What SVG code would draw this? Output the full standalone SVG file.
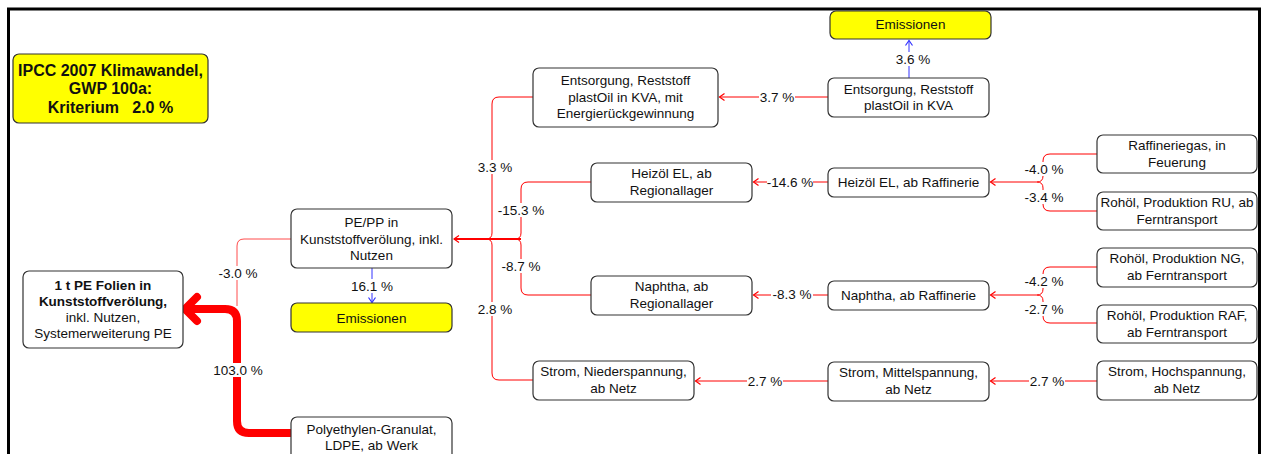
<svg xmlns="http://www.w3.org/2000/svg" width="1264" height="454" viewBox="0 0 1264 454">
<style>
.n{fill:#fff;stroke:#333;stroke-width:1.2}
.e{fill:#ffff00;stroke:#333;stroke-width:1.2}
.t{font-family:"Liberation Sans",Arial,sans-serif;font-size:13.5px;fill:#111;text-anchor:middle}
.b{font-weight:bold}
.r{fill:none;stroke:#ff0000;stroke-width:1}
.bl{fill:none;stroke:#3333ff;stroke-width:1}
.lb{fill:#fff}
</style>
<defs>
<marker id="ar" viewBox="-7 -5 9 10" refX="0" refY="0" markerWidth="9" markerHeight="10" markerUnits="userSpaceOnUse" orient="auto">
<path d="M-5,-3.5 L0,0 L-5,3.5" fill="none" stroke="#ff0000" stroke-width="1.2"/>
</marker>
<marker id="ab" viewBox="-7 -5 9 10" refX="0" refY="0" markerWidth="9" markerHeight="10" markerUnits="userSpaceOnUse" orient="auto">
<path d="M-5,-3.5 L0,0 L-5,3.5" fill="none" stroke="#3333ff" stroke-width="1.2"/>
</marker>
</defs>
<rect x="0" y="0" width="1264" height="454" fill="#fff"/>
<rect x="8.5" y="9" width="1251" height="470" fill="none" stroke="#000" stroke-width="3"/>

<g id="connectors">
<!-- thick main -->
<path d="M292,433 H249 Q237,433 237,421 V321 Q237,309 225,309 H188" fill="none" stroke="#ff0000" stroke-width="8"/>
<path d="M197,297 L185,309 L197,321" fill="none" stroke="#ff0000" stroke-width="8" stroke-linecap="round" stroke-linejoin="round"/>
<path class="r" d="M291,239 H244 Q237,239 237,246 V306" stroke-opacity="0.7"/>
<path class="bl" d="M372,268 V302.5" marker-end="url(#ab)"/>
<!-- trunk into PE/PP -->
<path d="M521,239 H454" fill="none" stroke="#ff0000" stroke-width="2" marker-end="url(#ar)"/>
<path class="r" d="M533,97 H499 Q492,97 492,104 V233 Q492,239 486,239"/>
<path class="r" d="M533,380 H499 Q492,380 492,373 V245 Q492,239 486,239"/>
<path class="r" d="M591,182 H528 Q521,182 521,189 V233 Q521,239 515,239" stroke-width="1.3"/>
<path class="r" d="M591,295 H528 Q521,295 521,288 V245 Q521,239 515,239"/>
<!-- middle column -->
<path class="r" d="M828,97 H719.5" marker-end="url(#ar)"/>
<path class="r" d="M828,182 H753.5" stroke-width="1.5" marker-end="url(#ar)"/>
<path class="r" d="M828,295 H753.5" marker-end="url(#ar)"/>
<path class="r" d="M828,381 H695.5" marker-end="url(#ar)"/>
<path class="bl" d="M909,78 V40.5" marker-end="url(#ab)"/>
<!-- right column -->
<path class="r" d="M1097,381 H990.5" marker-end="url(#ar)"/>
<path class="r" d="M1037,182 H990.5" stroke-width="1.5" marker-end="url(#ar)"/>
<path class="r" d="M1097,154 H1050 Q1043,154 1043,161 V176 Q1043,182 1037,182"/>
<path class="r" d="M1097,211 H1050 Q1043,211 1043,204 V188 Q1043,182 1037,182"/>
<path class="r" d="M1037,295 H990.5" stroke-width="1.5" marker-end="url(#ar)"/>
<path class="r" d="M1097,267 H1050 Q1043,267 1043,274 V289 Q1043,295 1037,295"/>
<path class="r" d="M1097,323 H1050 Q1043,323 1043,316 V301 Q1043,295 1037,295"/>
<!-- labels -->
<rect class="lb" x="218" y="266" width="40" height="14"/><text class="t" x="238" y="278">-3.0 %</text>
<rect class="lb" x="216" y="363" width="44" height="14"/><text class="t" x="238" y="375">103.0 %</text>
<rect class="lb" x="354" y="279" width="36" height="14"/><text class="t" x="372" y="291">16.1 %</text>
<rect class="lb" x="477" y="160" width="36" height="14"/><text class="t" x="495" y="172">3.3 %</text>
<rect class="lb" x="477" y="302" width="36" height="14"/><text class="t" x="495" y="314">2.8 %</text>
<rect class="lb" x="497" y="203" width="48" height="14"/><text class="t" x="521" y="215">-15.3 %</text>
<rect class="lb" x="500" y="259" width="42" height="14"/><text class="t" x="521" y="271">-8.7 %</text>
<rect class="lb" x="759" y="90" width="36" height="14"/><text class="t" x="777" y="102">3.7 %</text>
<rect class="lb" x="767" y="175" width="46" height="14"/><text class="t" x="790" y="187">-14.6 %</text>
<rect class="lb" x="771" y="288" width="42" height="14"/><text class="t" x="792" y="299">-8.3 %</text>
<rect class="lb" x="747" y="374" width="36" height="14"/><text class="t" x="765" y="386">2.7 %</text>
<rect class="lb" x="1029" y="374" width="36" height="14"/><text class="t" x="1047" y="386">2.7 %</text>
<rect class="lb" x="895" y="52" width="36" height="14"/><text class="t" x="913" y="64">3.6 %</text>
<rect class="lb" x="1024" y="162" width="40" height="14"/><text class="t" x="1044" y="174">-4.0 %</text>
<rect class="lb" x="1024" y="190" width="40" height="14"/><text class="t" x="1044" y="202">-3.4 %</text>
<rect class="lb" x="1024" y="274" width="40" height="14"/><text class="t" x="1044" y="286">-4.2 %</text>
<rect class="lb" x="1024" y="302" width="40" height="14"/><text class="t" x="1044" y="314">-2.7 %</text>
</g>

<g id="ipcc"><rect class="e" x="13" y="54" width="195" height="69" rx="6"/>
<text class="t b" style="font-size:16px" x="110.5" y="75.7">IPCC 2007 Klimawandel,</text>
<text class="t b" style="font-size:16px" x="110.5" y="94">GWP 100a:</text>
<text class="t b" style="font-size:16px;white-space:pre" x="110.5" y="112.7">Kriterium   2.0 %</text></g>

<g id="n_folien"><rect class="n" x="23" y="271" width="160" height="77" rx="6"/>
<text class="t b" x="103" y="289.5">1 t PE Folien in</text>
<text class="t b" x="103" y="305.5">Kunststoffverölung,</text>
<text class="t" x="103" y="321.5">inkl. Nutzen,</text>
<text class="t" x="103" y="337.5">Systemerweiterung PE</text></g>

<g id="n_pepp"><rect class="n" x="291" y="209" width="161" height="59" rx="6"/>
<text class="t" x="371.5" y="227">PE/PP in</text>
<text class="t" x="371.5" y="243.5">Kunststoffverölung, inkl.</text>
<text class="t" x="371.5" y="260">Nutzen</text></g>

<g id="n_emis1"><rect class="e" x="291" y="303" width="161" height="29" rx="6"/>
<text class="t" x="371.5" y="322.5">Emissionen</text></g>

<g id="n_pe_gran"><rect class="n" x="291" y="417" width="161" height="45" rx="6"/>
<text class="t" x="371.5" y="433.5">Polyethylen-Granulat,</text>
<text class="t" x="371.5" y="449.5">LDPE, ab Werk</text></g>

<g id="n_entsorg_mit"><rect class="n" x="533" y="68" width="185" height="59" rx="6"/>
<text class="t" x="625.5" y="85">Entsorgung, Reststoff</text>
<text class="t" x="625.5" y="101.5">plastOil in KVA, mit</text>
<text class="t" x="625.5" y="118">Energierückgewinnung</text></g>

<g id="n_heizoel_reg"><rect class="n" x="591" y="163" width="161" height="39" rx="6"/>
<text class="t" x="671.5" y="178">Heizöl EL, ab</text>
<text class="t" x="671.5" y="194.5">Regionallager</text></g>

<g id="n_naphtha_reg"><rect class="n" x="591" y="276" width="161" height="39" rx="6"/>
<text class="t" x="671.5" y="291">Naphtha, ab</text>
<text class="t" x="671.5" y="307.5">Regionallager</text></g>

<g id="n_strom_nieder"><rect class="n" x="533" y="361" width="161" height="39" rx="6"/>
<text class="t" x="613.5" y="376">Strom, Niederspannung,</text>
<text class="t" x="613.5" y="392.5">ab Netz</text></g>

<g id="n_emis2"><rect class="e" x="830" y="11" width="161" height="28" rx="6"/>
<text class="t" x="910.5" y="29">Emissionen</text></g>

<g id="n_entsorg_kva"><rect class="n" x="828" y="78" width="161" height="39" rx="6"/>
<text class="t" x="908.5" y="93.5">Entsorgung, Reststoff</text>
<text class="t" x="908.5" y="110">plastOil in KVA</text></g>

<g id="n_heizoel_raff"><rect class="n" x="828" y="168" width="161" height="29" rx="6"/>
<text class="t" x="908.5" y="187">Heizöl EL, ab Raffinerie</text></g>

<g id="n_naphtha_raff"><rect class="n" x="828" y="281" width="161" height="29" rx="6"/>
<text class="t" x="908.5" y="300">Naphtha, ab Raffinerie</text></g>

<g id="n_strom_mittel"><rect class="n" x="828" y="362" width="161" height="39" rx="6"/>
<text class="t" x="908.5" y="377">Strom, Mittelspannung,</text>
<text class="t" x="908.5" y="393.5">ab Netz</text></g>

<g id="n_raffgas"><rect class="n" x="1097" y="135" width="160" height="38" rx="6"/>
<text class="t" x="1177" y="150">Raffineriegas, in</text>
<text class="t" x="1177" y="166.5">Feuerung</text></g>

<g id="n_rohoel_ru"><rect class="n" x="1097" y="192" width="160" height="38" rx="6"/>
<text class="t" x="1177" y="207">Rohöl, Produktion RU, ab</text>
<text class="t" x="1177" y="223.5">Ferntransport</text></g>

<g id="n_rohoel_ng"><rect class="n" x="1097" y="248" width="160" height="39" rx="6"/>
<text class="t" x="1177" y="263">Rohöl, Produktion NG,</text>
<text class="t" x="1177" y="279.5">ab Ferntransport</text></g>

<g id="n_rohoel_raf"><rect class="n" x="1097" y="305" width="160" height="38" rx="6"/>
<text class="t" x="1177" y="320">Rohöl, Produktion RAF,</text>
<text class="t" x="1177" y="336.5">ab Ferntransport</text></g>

<g id="n_strom_hoch"><rect class="n" x="1097" y="361" width="160" height="39" rx="6"/>
<text class="t" x="1177" y="376">Strom, Hochspannung,</text>
<text class="t" x="1177" y="392.5">ab Netz</text></g>
</svg>
